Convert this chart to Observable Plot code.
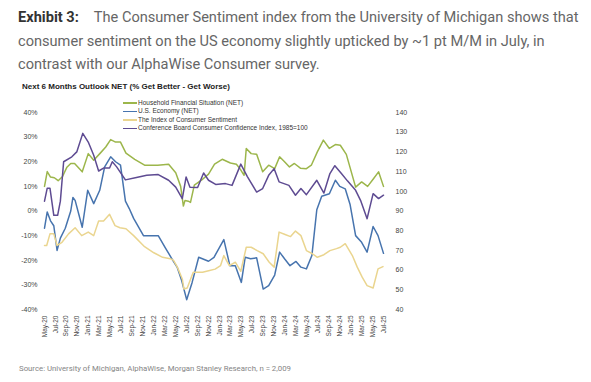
<!DOCTYPE html>
<html><head><meta charset="utf-8">
<script src="https://cdn.jsdelivr.net/npm/d3@7"></script>
<script src="https://cdn.jsdelivr.net/npm/@observablehq/plot@0.6"></script>
<style>
body{margin:0;width:591px;height:382px;background:#fff;position:relative;overflow:hidden;font-family:Roboto,"Liberation Sans",Arial,sans-serif;}
#title{position:absolute;left:18px;top:6px;font-size:14.6px;line-height:23.5px;color:#666;white-space:nowrap;}
#title b{color:#333;font-weight:700;margin-right:15px;}
#sub{position:absolute;left:22px;top:82px;font:bold 8px "Liberation Sans",Arial,sans-serif;color:#222;white-space:nowrap;}
#chart{position:absolute;left:0;top:78px;}
#legend{position:absolute;left:123px;top:99px;font:6.5px "Liberation Sans",Arial,sans-serif;color:#333;}
.row{height:8.4px;line-height:8.4px;display:flex;align-items:center;white-space:nowrap}
.sw{width:14px;height:1.5px;margin-right:1px;}
#source{position:absolute;left:19px;top:364px;font-size:7.8px;color:#858585;white-space:nowrap;}
</style></head>
<body>
<div id="title"><b>Exhibit 3:</b>The Consumer Sentiment index from the University of Michigan shows that<br>consumer sentiment on the US economy slightly upticked by ~1 pt M/M in July, in<br>contrast with our AlphaWise Consumer survey.</div>
<div id="sub">Next 6 Months Outlook NET (% Get Better - Get Worse)</div>
<div id="chart"></div>
<div id="legend"></div>
<div id="source">Source: University of Michigan, AlphaWise, Morgan Stanley Research, n = 2,009</div>
<script>
// x tick labels (every 2 months starting May-20); x values are months since May-2020
const xLabels = ["May-20","Jul-20","Sep-20","Nov-20","Jan-21","Mar-21","May-21","Jul-21","Sep-21","Nov-21","Jan-22","Mar-22","May-22","Jul-22","Sep-22","Nov-22","Jan-23","Mar-23","May-23","Jul-23","Sep-23","Nov-23","Jan-24","Mar-24","May-24","Jul-24","Sep-24","Nov-24","Jan-25","Mar-25","May-25","Jul-25"];
const leftTicks = [40,30,20,10,0,-10,-20,-30,-40];
const rightTicks = [140,130,120,110,100,90,80,70,60,50,40];

const seriesNames = ["Household Financial Situation (NET)","U.S. Economy (NET)","The Index of Consumer Sentiment","Conference Board Consumer Confidence Index, 1985=100"];
const seriesColors = ["#9cb64b","#4774ae","#ead58f","#5e4b92"];

// Household Financial Situation (NET), %
const householdMonth = [0,0.5,1.1,1.8,2.5,3.3,4.1,4.8,5.5,6.9,8.0,9.0,10.2,11.2,12.1,13.0,13.9,14.9,16.5,18.3,20.7,22.7,24.0,24.9,25.4,25.7,26.3,26.7,27.4,28.7,30.0,31.1,32.5,34.0,35.1,35.8,36.5,36.9,37.8,38.8,39.9,41.0,42.1,43.0,43.9,44.8,45.7,46.8,47.9,48.8,49.9,51.0,52.1,53.2,54.1,55.2,56.9,58.0,59.1,60.2,61.1,62.0];
const householdNet = [10,16,13.8,13.5,12.3,14,17.8,19.3,19.3,15.9,23.3,20.6,23.5,26,29,28,28,23.5,21,18.6,18.6,19,15.5,10,2,4.3,4,3.5,10.5,12.5,15,19,21,19.5,19,17,14.5,25.4,23.3,23,15.9,18.6,17.2,22,20,17.9,19.3,17.4,17.2,18.6,24,28.8,25.4,27,26.7,23,9.7,11.8,10,13.2,15.9,10];

// U.S. Economy (NET), %
const economyMonth = [0,0.5,1.1,1.7,2.3,2.9,3.8,4.8,5.2,5.6,6.9,7.9,9.0,10.1,11.0,12.1,13.0,13.9,14.8,15.5,16.3,18.1,20.8,22.1,23.3,24.3,25.1,26.0,27.0,28.2,30.0,31.0,32.8,33.9,34.9,36.0,36.7,37.7,38.8,40.0,41.0,42.1,43.0,43.9,44.9,46.0,46.9,47.9,48.9,49.8,50.7,52.1,53.2,54.0,55.0,55.9,56.9,58.0,59.0,60.1,61.0,62.0];
const economyNet = [-7,-0.4,-4,-6,-16,-11,-7,0,5.5,4.3,-6.6,8.4,3,8.4,17.9,22,20,18.6,4,1,-3,-10,-10,-15,-19.4,-23,-28.3,-36,-29,-18.8,-20.4,-18.8,-11.6,-22.2,-22.2,-29,-18.8,-19.4,-19,-31.7,-30.3,-26,-16.7,-19.4,-22.2,-20.5,-22.8,-23.5,-18.1,0.5,6,7,12.5,10,9,2.5,-10,-12.7,-16.7,-6.3,-10,-17.2];

// The Index of Consumer Sentiment (right axis)
const sentimentMonth = [0,0.4,1.0,1.7,2.3,3.2,4.4,5.6,6.8,8.0,9.0,9.9,10.8,11.9,12.9,13.8,14.9,16.3,18.3,20.0,21.6,23.0,23.6,24.3,25.2,25.5,26.1,27.2,28.9,30.2,31.2,32.2,32.8,33.8,34.9,35.9,36.9,37.8,38.9,40.0,41.1,42.0,42.9,44.0,45.0,45.9,46.9,47.9,49.0,49.9,51.1,52.2,53.4,54.1,55.0,56.3,57.2,58.1,59.0,60.1,61.0,61.9];
const sentimentIndex = [72.5,72.5,78.4,78.4,72.5,74.1,78.4,81.5,77.5,79.3,77.5,84.9,84.9,88.3,82.6,81.5,81,77.5,71.9,68.8,66.5,65.8,64.9,61.5,55.5,50.4,50.9,58.9,58.9,59.8,60.5,62.3,67.4,62.3,64,59.4,71.6,71.6,69.9,68.3,64,61.5,79.3,78.1,77,79.8,77.5,69.9,68.3,66.5,67.8,69.9,70.9,71.6,73.4,67.4,61.5,56.4,52.1,50.9,60.6,61.8];

// Conference Board Consumer Confidence Index, 1985=100 (right axis)
const confBoardMonth = [0,0.5,1.0,1.7,2.4,2.9,3.5,5.0,5.9,7.0,8.0,9.0,9.9,10.8,11.9,12.4,13.2,14.8,16.6,18.7,20.8,22.7,24.0,25.2,25.9,26.6,28.0,29.1,30.0,31.3,33.1,34.3,35.9,37.1,38.8,39.9,41.0,42.0,42.9,44.7,45.9,46.9,47.9,49.8,51.1,52.2,53.1,54.3,55.4,56.9,57.8,59.0,60.1,61.1,62.0];
const confBoardIndex = [95,101.6,101.6,87.8,87.8,95,115,117.5,120,129.4,125,118.3,110.3,111.8,111.8,115,112.4,105.8,106.9,108.1,108.5,105.6,102.1,96.3,107.3,102.1,101.9,109.3,105.6,103.5,103.9,103,113.8,107.5,99.6,101.4,108.1,111.5,104.8,103,98,101.4,98.3,105.6,99.1,109,113,109,105.3,100.5,95.4,86.1,98.8,96.3,98];

// right axis (index 40..140) shares the pixel span of left axis (-40%..40%)
const rightToLeft = v => (v - 90) / 1.25;
const leftToRight = p => 90 + 1.25 * p;

const zip = (ms, vs, f = v => v) => ms.map((m, i) => ({m, v: f(vs[i])}));
const data = [
  zip(householdMonth, householdNet),
  zip(economyMonth, economyNet),
  zip(sentimentMonth, sentimentIndex, rightToLeft),
  zip(confBoardMonth, confBoardIndex, rightToLeft)
];

const font = "'Liberation Sans', Arial, sans-serif";
const chart = Plot.plot({
  width: 591,
  height: 270,
  marginTop: 34,
  marginBottom: 39,
  marginLeft: 44,
  marginRight: 208,
  style: {fontFamily: font, fontSize: "7px", color: "#444", background: "transparent"},
  x: {domain: [0, 62]},
  y: {domain: [-40, 40]},
  marks: [
    Plot.axisY({ticks: leftTicks, tickFormat: d => d + "%", tickSize: 0, tickPadding: 7, fontSize: 7, label: null}),
    Plot.axisY({anchor: "right", ticks: rightTicks.map(rightToLeft), tickFormat: d => String(Math.round(leftToRight(d))), tickSize: 0, tickPadding: 12, fontSize: 7, label: null}),
    Plot.axisX({ticks: xLabels.map((_, i) => 2 * i), tickFormat: m => xLabels[Math.round(m / 2)], tickRotate: -90, tickSize: 0, tickPadding: 6, fontSize: 6.5, label: null}),
    ...data.map((d, i) => Plot.line(d, {x: "m", y: "v", stroke: seriesColors[i], strokeWidth: 1.5, strokeLinejoin: "round"}))
  ]
});
document.getElementById("chart").appendChild(chart);

const legend = document.getElementById("legend");
seriesNames.forEach((n, i) => {
  const row = document.createElement("div");
  row.className = "row";
  row.innerHTML = `<span class="sw" style="background:${seriesColors[i]}"></span><span>${n}</span>`;
  legend.appendChild(row);
});
</script>
</body></html>
